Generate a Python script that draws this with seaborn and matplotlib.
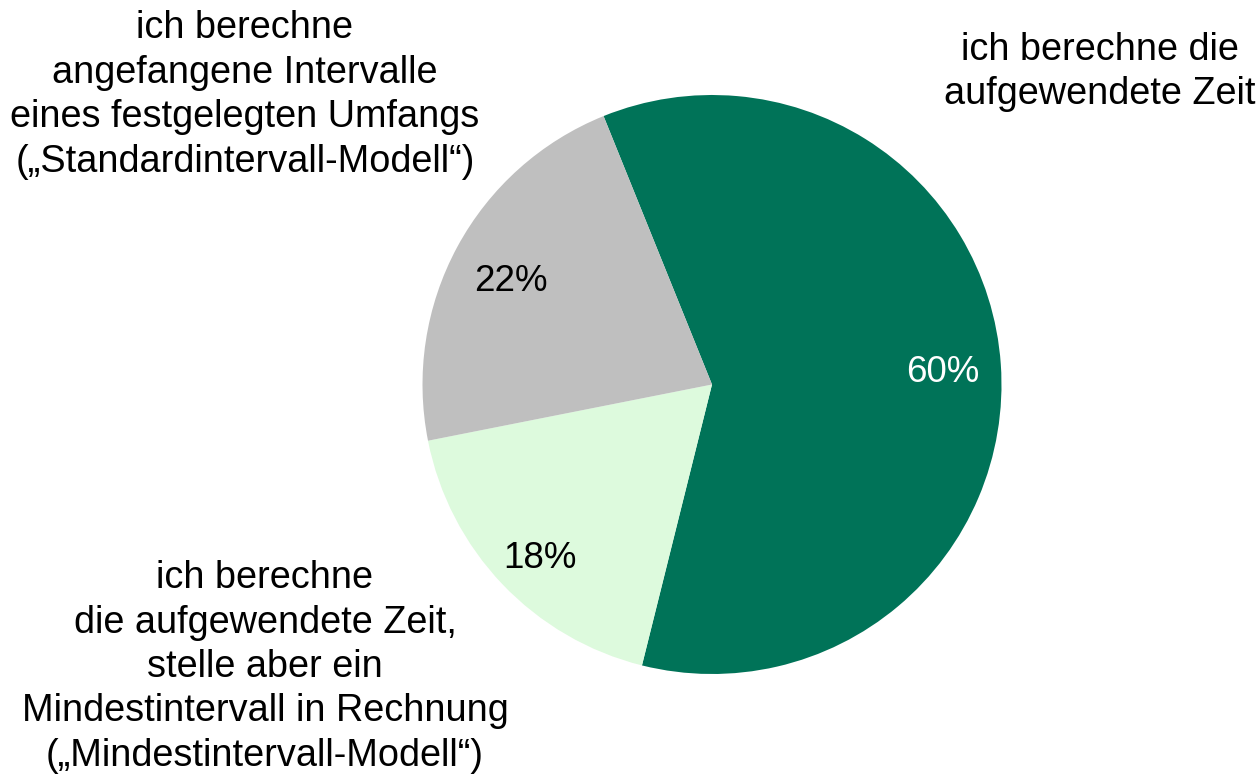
import matplotlib
matplotlib.use("Agg")
import matplotlib.pyplot as plt
import seaborn as sns

# data
categories = [
    "ich berechne die\naufgewendete Zeit",
    "ich berechne\ndie aufgewendete Zeit,\nstelle aber ein\nMindestintervall in Rechnung\n(„Mindestintervall-Modell“)",
    "ich berechne\nangefangene Intervalle\neines festgelegten Umfangs\n(„Standardintervall-Modell“)",
]
values = [60, 18, 22]
colors = ["#007358", "#DDFADD", "#BFBFBF"]
pct_colors = ["white", "black", "black"]

sns.set_theme(style="white")
plt.rcParams["font.family"] = ["Liberation Sans", "DejaVu Sans"]

W, H = 1260, 774
cx, cy, R = 712.0, 384.5, 289.5
fig = plt.figure(figsize=(W / 100, H / 100), dpi=100)
ax = fig.add_axes([0, 0, 1, 1])

palette = sns.color_palette(colors)
wedges, texts, autotexts = ax.pie(
    values,
    colors=palette,
    startangle=112,
    counterclock=False,
    autopct=lambda p: f"{p:.0f}%",
    pctdistance=0.8,
    radius=1.0,
    wedgeprops=dict(linewidth=0),
    textprops=dict(fontsize=26.5),
)
# small pixel nudges to mimic the original label placement
nudges = [(0, 4), (-4, 14), (3, 7)]
for t, c, (ndx, ndy) in zip(autotexts, pct_colors, nudges):
    t.set_color(c)
    x, y = t.get_position()
    t.set_position((x + ndx / R, y - ndy / R))

ax.set_xlim(-cx / R, (W - cx) / R)
ax.set_ylim(-(H - cy) / R, cy / R)
ax.set_aspect("auto")
ax.axis("off")

def px(x, y):
    return (x - cx) / R, (cy - y) / R

label_pos = [(1100, 72), (265, 667), (245, 95)]
for lab, (x, y) in zip(categories, label_pos):
    dx, dy = px(x, y)
    ax.text(dx, dy, lab, ha="center", va="center", fontsize=27.3,
            linespacing=1.3, color="black")

fig.savefig("out.png", dpi=100)
